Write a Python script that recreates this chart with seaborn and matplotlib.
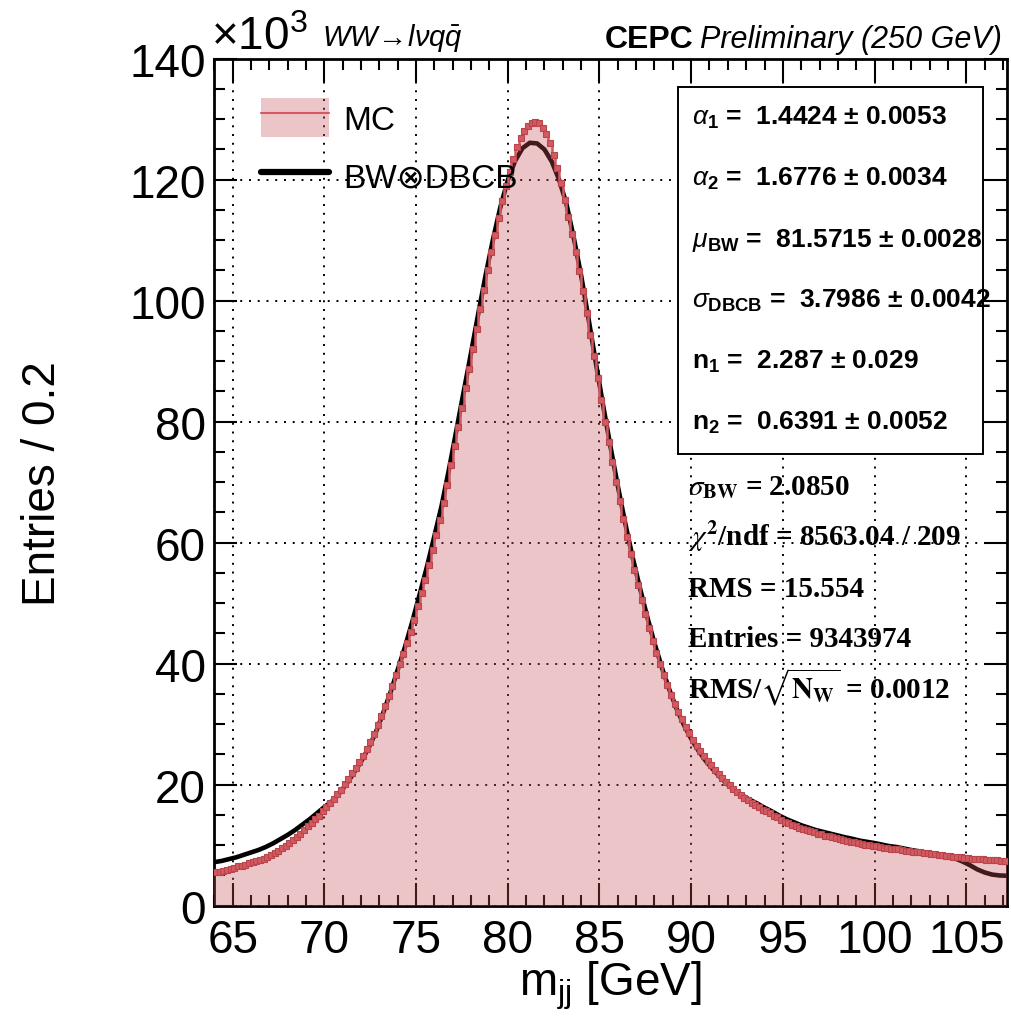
import numpy as np
import pandas as pd
import matplotlib
matplotlib.use("Agg")
import matplotlib.pyplot as plt
import seaborn as sns
from matplotlib.patches import Patch, Rectangle
from matplotlib.lines import Line2D
from matplotlib.ticker import MultipleLocator

# ---------------------------------------------------------------------------
# Dijet invariant mass, WW -> l nu q qbar at 250 GeV
# MC histogram: 216 bins of 0.2 GeV between 64 and 107.2 GeV (entries / 10^3)
# ---------------------------------------------------------------------------
mass_lo, mass_hi, n_bins = 64.0, 107.2, 216

mc_entries = [
    5.5, 5.6, 5.8, 5.9, 6.1, 6.3, 6.5, 6.6, 6.8, 7.0,
    7.2, 7.4, 7.6, 7.8, 8.1, 8.4, 8.7, 9.1, 9.5, 9.9,
    10.4, 10.9, 11.4, 11.9, 12.5, 13.1, 13.7, 14.3, 14.9, 15.6,
    16.3, 16.9, 17.6, 18.4, 19.2, 20.1, 21.0, 21.9, 22.8, 23.8,
    24.8, 25.9, 27.0, 28.3, 29.8, 31.4, 33.0, 34.6, 36.3, 38.1,
    39.9, 41.6, 43.4, 45.3, 47.3, 49.5, 51.7, 53.9, 56.3, 58.8,
    61.3, 63.8, 66.5, 69.6, 72.8, 76.0, 79.1, 82.3, 85.5, 88.7,
    92.0, 95.3, 98.6, 101.8, 105.0, 108.0, 110.9, 113.7, 116.4, 118.9,
    121.3, 123.5, 125.4, 126.9, 128.0, 128.9, 129.4, 129.6, 129.3, 128.6,
    127.5, 126.0, 124.1, 121.9, 119.4, 116.7, 113.9, 111.0, 108.1, 104.9,
    101.6, 98.0, 94.4, 90.8, 87.2, 83.6, 80.0, 76.6, 73.3, 70.1,
    66.9, 63.9, 61.0, 58.2, 55.5, 53.0, 50.5, 48.2, 45.9, 43.8,
    41.8, 39.9, 38.1, 36.4, 34.9, 33.4, 32.0, 30.8, 29.6, 28.5,
    27.4, 26.4, 25.5, 24.7, 23.9, 23.2, 22.5, 21.8, 21.1, 20.5,
    19.9, 19.3, 18.8, 18.3, 17.8, 17.4, 17.0, 16.6, 16.3, 15.9,
    15.6, 15.3, 14.9, 14.6, 14.2, 13.9, 13.6, 13.4, 13.1, 12.9,
    12.7, 12.5, 12.3, 12.1, 11.9, 11.8, 11.6, 11.5, 11.3, 11.2,
    11.0, 10.9, 10.7, 10.6, 10.5, 10.3, 10.2, 10.1, 10.0, 9.9,
    9.8, 9.7, 9.6, 9.5, 9.4, 9.4, 9.3, 9.2, 9.1, 9.0,
    8.9, 8.9, 8.8, 8.7, 8.7, 8.6, 8.5, 8.4, 8.3, 8.2,
    8.2, 8.1, 8.0, 8.0, 7.9, 7.9, 7.8, 7.8, 7.7, 7.7,
    7.6, 7.6, 7.5, 7.5, 7.4, 7.4,
]

# BW (x) double-sided Crystal Ball fit, sampled every 0.4 GeV (entries / 10^3)
fit_points = 109
fit_values = [
    7.2, 7.4, 7.7, 8.0, 8.4, 8.8, 9.2, 9.7, 10.3, 11.0,
    11.7, 12.5, 13.4, 14.3, 15.3, 16.3, 17.2, 18.5, 20.1, 21.9,
    23.8, 26.0, 28.6, 31.8, 35.2, 39.0, 42.8, 47.0, 51.5, 56.1,
    61.1, 66.2, 72.2, 78.6, 85.0, 91.4, 98.0, 104.3, 110.2, 115.5,
    119.9, 123.1, 125.2, 126.1, 126.0, 125.0, 123.0, 120.0, 116.0, 110.4,
    104.2, 97.1, 89.8, 82.7, 75.9, 69.4, 63.3, 57.7, 52.6, 47.8,
    43.4, 39.4, 35.8, 32.6, 29.9, 27.6, 25.6, 23.9, 22.5, 21.2,
    20.0, 19.0, 18.2, 17.5, 16.9, 16.2, 15.6, 14.9, 14.3, 13.8,
    13.3, 12.9, 12.5, 12.2, 11.9, 11.6, 11.3, 11.05, 10.75, 10.55,
    10.35, 10.1, 9.85, 9.7, 9.45, 9.2, 9.0, 8.8, 8.6, 8.35,
    8.1, 7.8, 7.3, 6.7, 6.0, 5.5, 5.15, 5.0, 4.95,
]

fit_params = [
    (r"$\alpha_{\mathbf{1}}$", "1.4424", "0.0053"),
    (r"$\alpha_{\mathbf{2}}$", "1.6776", "0.0034"),
    (r"$\mu_{\mathbf{BW}}$", "81.5715", "0.0028"),
    (r"$\sigma_{\mathbf{DBCB}}$", "3.7986", "0.0042"),
    (r"$\mathbf{n_{1}}$", "2.287", "0.029"),
    (r"$\mathbf{n_{2}}$", "0.6391", "0.0052"),
]

summary_lines = [
    r"$\sigma_{\mathbf{BW}}$ = 2.0850",
    r"$\chi^{\mathbf{2}}$/ndf = 8563.04 / 209",
    "RMS = 15.554",
    "Entries = 9343974",
    r"RMS/$\sqrt{\mathbf{N}_{\mathbf{W}}}$ = 0.0012",
]

# ---------------------------------------------------------------------------
edges = np.linspace(mass_lo, mass_hi, n_bins + 1)
centers = 0.5 * (edges[:-1] + edges[1:])
fit_mass = np.linspace(mass_lo, mass_hi, fit_points)

df_mc = pd.DataFrame({"mjj": centers, "entries": mc_entries})
df_fit = pd.DataFrame({"mjj": fit_mass, "pdf": fit_values})

sns.set_style("ticks")
plt.rcParams.update({
    "font.family": ["Liberation Sans", "DejaVu Sans"],
    "mathtext.fontset": "custom",
    "mathtext.rm": "Liberation Sans",
    "mathtext.it": "Liberation Sans:italic",
    "mathtext.bf": "Liberation Sans:bold",
    "mathtext.sf": "Liberation Sans",
    "text.color": "black",
    "axes.labelcolor": "black",
    "xtick.color": "black",
    "ytick.color": "black",
    "axes.linewidth": 2.0,
    "axes.edgecolor": "black",
    "axes.axisbelow": "line",
})

FIG_W, FIG_H = 1011, 1020
fig = plt.figure(figsize=(FIG_W / 100, FIG_H / 100), dpi=100)


def fx(x):
    return x / FIG_W


def fy(y):
    return 1 - y / FIG_H


ax = fig.add_axes([fx(214.3), fy(906.7), (1006.6 - 214.3) / FIG_W, (906.7 - 59.7) / FIG_H])

red = "#d25a60"
fill_rgb = (200 / 255, 80 / 255, 88 / 255)
fill_alpha = 0.33

# fit curve underneath the translucent MC fill
sns.lineplot(data=df_fit, x="mjj", y="pdf", color="black", lw=3.3, ax=ax, zorder=2)

sns.histplot(data=df_mc, x="mjj", weights="entries", bins=n_bins,
             binrange=(mass_lo, mass_hi), element="step", fill=True,
             color=fill_rgb, alpha=fill_alpha, linewidth=0, ax=ax, zorder=3)
ax.stairs(mc_entries, edges, baseline=None, color=red, lw=1.8, zorder=4)
ax.plot(centers, mc_entries, "s", ms=3.8, color=red, mec="#b8444c", mew=0.8, zorder=5)

ax.set_xlim(mass_lo, mass_hi)
ax.set_ylim(0, 140)
ax.xaxis.set_major_locator(MultipleLocator(5))
ax.xaxis.set_minor_locator(MultipleLocator(1))
ax.yaxis.set_major_locator(MultipleLocator(20))
ax.yaxis.set_minor_locator(MultipleLocator(5))
ax.tick_params(which="both", direction="in", top=True, right=True, width=1.5,
               labelsize=33, colors="black")
ax.tick_params(which="major", length=16.5)
ax.tick_params(which="minor", length=8)
ax.tick_params(axis="x", pad=9)
ax.tick_params(axis="y", pad=6)
ax.grid(True, which="major", linestyle=(0, (1, 3.5)), color="black", lw=1.4)

ax.set_xlabel(r"m$_{\mathregular{jj}}$ [GeV]", fontsize=33, color="black")
ax.set_ylabel("Entries / 0.2", fontsize=33, color="black")
ax.xaxis.set_label_coords(0.5, -0.062)
ax.yaxis.set_label_coords(-0.188, 0.5)

# legend
mc_handle = (Patch(facecolor=fill_rgb, alpha=fill_alpha, edgecolor="none"),
             Line2D([], [], color=red, lw=1.5))
fit_handle = Line2D([], [], color="black", lw=4.5)
leg = ax.legend([mc_handle, fit_handle], ["MC", "BW\u2297DBCB"], loc="upper left",
                bbox_to_anchor=(fx(261), fy(99)), bbox_transform=fig.transFigure,
                frameon=False, fontsize=24, handlelength=2.05, handleheight=1.42,
                handletextpad=0.42, labelspacing=0.58, borderpad=0, borderaxespad=0)
for t in leg.get_texts():
    t.set_color("black")

# header texts
fig.text(fx(211), fy(50), r"$\times$10$^{3}$", fontsize=33, va="baseline", color="black")
fig.text(fx(322), fy(46), r"$\mathit{WW\!\rightarrow\! l\nu q\bar{q}}$", fontsize=21,
         va="baseline", color="black")
fig.text(fx(605), fy(48), "CEPC", fontsize=23, fontweight="bold", va="baseline", color="black")
fig.text(fx(700), fy(48), "Preliminary (250 GeV)", fontsize=22, fontstyle="italic",
         va="baseline", color="black")

# fit parameter box
fig.add_artist(Rectangle((fx(678), fy(455)), (983 - 678) / FIG_W, (455 - 88) / FIG_H,
                         transform=fig.transFigure, facecolor="white",
                         edgecolor="black", lw=1.4, zorder=6))
for i, (name, val, err) in enumerate(fit_params):
    fig.text(fx(692), fy(125 + 61 * i), f"{name} =  {val} \u00b1 {err}",
             fontsize=19, fontweight="bold", va="baseline", color="black", zorder=7)

for i, line in enumerate(summary_lines):
    fig.text(fx(688), fy(495 + 50.8 * i), line, fontsize=21, fontweight="bold",
             family="Liberation Serif", math_fontfamily="stix", va="baseline",
             color="black", zorder=7)

fig.savefig("out.png", dpi=100)
